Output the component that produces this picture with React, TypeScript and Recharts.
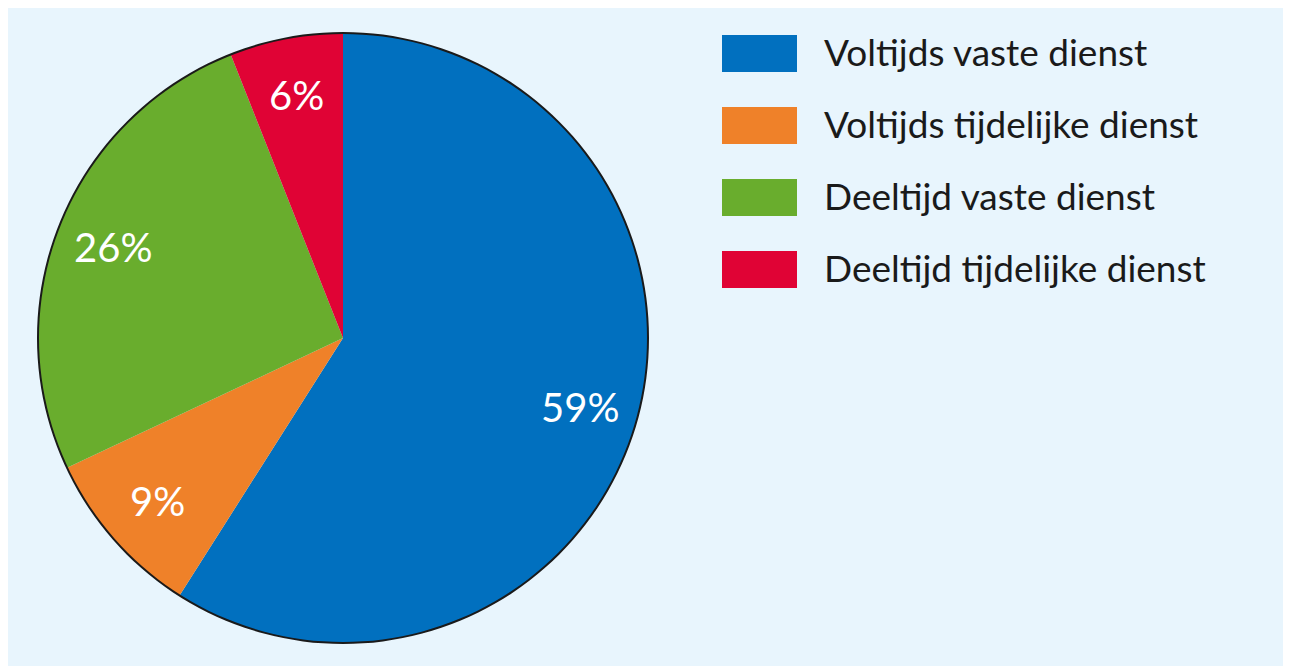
import { PieChart, Pie, Cell, Legend } from "recharts";

const categories = [
  "Voltijds vaste dienst",
  "Voltijds tijdelijke dienst",
  "Deeltijd vaste dienst",
  "Deeltijd tijdelijke dienst",
];
const shares = [59, 9, 26, 6];
const colors = ["#0170BF", "#EF8129", "#69AD2D", "#E00335"];

const data = categories.map((name, i) => ({ name, value: shares[i] }));
const outline = [{ name: "outline", value: 1 }];

const FONT = "Lato, 'Open Sans', sans-serif";
const RADIAN = Math.PI / 180;

const renderLabel = (props: any) => {
  const { cx, cy, midAngle, outerRadius, value } = props;
  const r = outerRadius * 0.81;
  const x = cx + r * Math.cos(-midAngle * RADIAN);
  const y = cy + r * Math.sin(-midAngle * RADIAN);
  return (
    <text
      x={x}
      y={y}
      fill="#fff"
      fontSize={40}
      fontFamily={FONT}
      textAnchor="middle"
      dominantBaseline="central"
    >
      {value}%
    </text>
  );
};

function LegendBox() {
  return (
    <div style={{ fontFamily: FONT }}>
      {categories.map((c, i) => (
        <div
          key={c}
          style={{ display: "flex", alignItems: "center", height: 72 }}
        >
          <div
            style={{ width: 75, height: 37, background: colors[i], marginRight: 27 }}
          />
          <span style={{ fontSize: 37, color: "#1a1a1a", marginTop: -3 }}>{c}</span>
        </div>
      ))}
    </div>
  );
}

export default function App() {
  return (
    <div style={{ width: 1283, height: 658, background: "#E8F5FD" }}>
      <PieChart width={1283} height={658} margin={{ top: 0, right: 0, bottom: 0, left: 0 }}>
        <Pie
          data={data}
          dataKey="value"
          cx={335}
          cy={330}
          outerRadius={305}
          startAngle={90}
          endAngle={-270}
          stroke="none"
          label={renderLabel}
          labelLine={false}
          isAnimationActive={false}
        >
          {data.map((d, i) => (
            <Cell key={d.name} fill={colors[i]} />
          ))}
        </Pie>
        <Pie
          data={outline}
          dataKey="value"
          cx={335}
          cy={330}
          innerRadius={304}
          outerRadius={306}
          startAngle={90}
          endAngle={-270}
          fill="#1a1a1a"
          stroke="none"
          isAnimationActive={false}
        />
        <Legend
          content={() => <LegendBox />}
          wrapperStyle={{ left: 714, top: 9, width: 560 }}
        />
      </PieChart>
    </div>
  );
}
